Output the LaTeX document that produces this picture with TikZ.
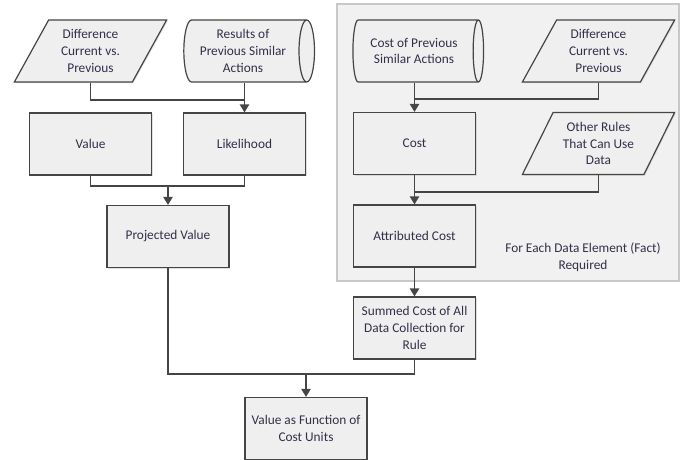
\documentclass[tikz,border=0pt]{standalone}
\usepackage{fontspec}
\setmainfont{Carlito}
\usepackage{tikz}
\usetikzlibrary{arrows.meta,shapes.geometric,shadows}
\definecolor{boxfill}{HTML}{EFEFEF}
\definecolor{panelfill}{HTML}{F1F1F1}
\definecolor{panelline}{HTML}{C8C8C8}
\definecolor{linec}{HTML}{454545}
\definecolor{textc}{HTML}{30304A}

\begin{document}
\begin{tikzpicture}[x=0.75pt,y=-0.75pt,
		every node/.style={font=\fontsize{10}{12.5}\selectfont,text=textc,align=center},
		shade/.style={drop shadow={shadow xshift=0.8pt,shadow yshift=-0.8pt,fill=black!25}},
		procbox/.style={rectangle,draw=linec,fill=boxfill,line width=0.9pt,minimum width=91.5pt,minimum height=46.5pt,shade},
		databox/.style={trapezium,trapezium left angle=65,trapezium right angle=115,trapezium stretches=true,draw=linec,fill=boxfill,line width=0.9pt,minimum width=115pt,minimum height=46.5pt,inner xsep=0pt,shade},
		storebox/.style={cylinder,aspect=0.3,shape border rotate=0,draw=linec,fill=boxfill,line width=0.9pt,minimum height=98pt,minimum width=46.5pt,inner xsep=1pt},
		line/.style={draw=linec,line width=1pt},
		arr/.style={line,-{Triangle[length=6pt,width=7pt]}}]
			\useasboundingbox (0,0) rectangle (683,460);
			\draw[fill=panelfill,draw=panelline,line width=0.8pt,drop shadow={shadow xshift=0.8pt,shadow yshift=-0.8pt,fill=black!15}] (337,4) rectangle (679,281);
			% left branch
			\node[databox] (diffL) at (90.5,51) {Difference\\Current vs.\\Previous};
			\node[storebox] (resL) at (243,51) {Results of\\Previous Similar\\Actions};
			\node[procbox] (value) at (90.5,144) {Value};
			\node[procbox] (likely) at (244.5,144) {Likelihood};
			\node[procbox] (proj) at (168,236.5) {Projected Value};
			% right branch
			\node[storebox] (costP) at (414,51) {Cost of Previous\\Similar Actions};
			\node[databox] (diffR) at (598.5,51) {Difference\\Current vs.\\Previous};
			\node[procbox] (cost) at (414.5,143.5) {Cost};
			\node[databox] (other) at (598.5,143.5) {Other Rules\\That Can Use\\Data};
			\node[procbox] (attrib) at (414.5,236) {Attributed Cost};
			\node (each) at (583,257) {For Each Data Element (Fact)\\Required};
			\node[procbox] (summed) at (414.5,328) {Summed Cost of All\\Data Collection for\\Rule};
			\node[procbox] (func) at (306,428.5) {Value as Function of\\Cost Units};
			% joins
			\coordinate (jL1) at (244.5,100);
			\coordinate (jL2) at (168,186);
			\coordinate (jR1) at (414.5,99);
			\coordinate (jR2) at (414.5,192);
			\coordinate (jB) at (306,374);
			\draw[line] (diffL.south) |- (jL1);
			\draw[arr] (likely.north |- resL.south) -- (likely.north);
			\draw[line] (value.south) |- (jL2) -| (likely.south);
			\draw[arr] (jL2) -- (proj.north);
			\draw[line] (diffR.south) |- (jR1);
			\draw[arr] (cost.north |- costP.south) -- (cost.north);
			\draw[line] (other.south) |- (jR2);
			\draw[arr] (cost.south) -- (attrib.north);
			\draw[arr] (attrib.south) -- (summed.north);
			\draw[line] (proj.south) |- (jB) -| (summed.south);
			\draw[arr] (jB) -- (func.north);
		\end{tikzpicture}
\end{document}
